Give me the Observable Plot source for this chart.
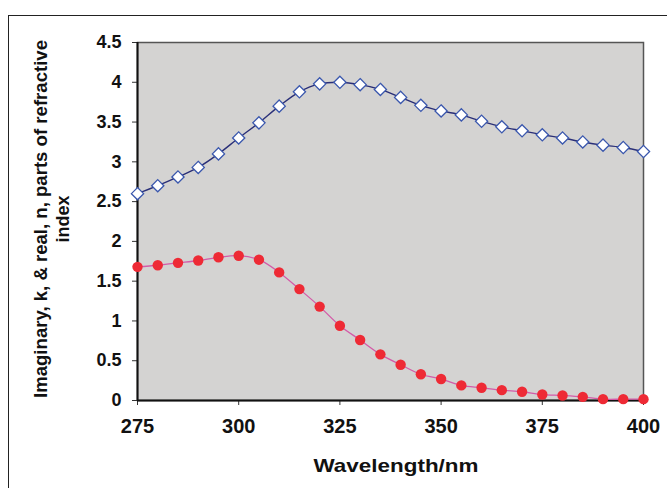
<!DOCTYPE html>
<html>
<head>
<meta charset="utf-8">
<script src="https://cdn.jsdelivr.net/npm/d3@7"></script>
<script src="https://cdn.jsdelivr.net/npm/@observablehq/plot@0.6"></script>
<style>
  html, body { margin: 0; padding: 0; background: #fff; }
  #wrap { position: relative; width: 667px; height: 488px; overflow: hidden; }
  #border { position: absolute; left: 8px; top: 15px; width: 700px; height: 520px; border: 1px solid #222; box-sizing: border-box; pointer-events: none; }
  #chart { position: absolute; left: 0; top: 0; }
  #chart g[aria-label="x-axis tick label"] { font-size: 20px; font-weight: bold; }
  #chart g[aria-label="y-axis tick label"] { font-size: 18px; font-weight: bold; }
</style>
</head>
<body>
<div id="wrap"><div id="chart"></div><div id="border"></div></div>
<script>
const wavelength = [275,280,285,290,295,300,305,310,315,320,325,330,335,340,345,350,355,360,365,370,375,380,385,390,395,400];
const nReal = [2.60,2.70,2.81,2.93,3.10,3.30,3.49,3.70,3.88,3.98,4.00,3.97,3.91,3.81,3.71,3.64,3.59,3.51,3.44,3.39,3.34,3.30,3.25,3.21,3.18,3.13];
const kImag = [1.68,1.70,1.73,1.76,1.80,1.82,1.77,1.61,1.40,1.18,0.94,0.76,0.58,0.45,0.33,0.27,0.19,0.16,0.13,0.11,0.075,0.063,0.046,0.017,0.017,0.017];
const xTicks = [275,300,325,350,375,400];
const yTicks = [0,0.5,1,1.5,2,2.5,3,3.5,4,4.5];
const xTitle = "Wavelength/nm";
const yTitleLines = ["Imaginary, k, & real, n, parts of refractive", "index"];

const nData = wavelength.map((w,i) => ({w, v: nReal[i]}));
const kData = wavelength.map((w,i) => ({w, v: kImag[i]}));

const FONT = "'Liberation Sans', Arial, sans-serif";

const chart = Plot.plot({
  width: 667,
  height: 488,
  marginLeft: 137,
  marginRight: 24,
  marginTop: 42,
  marginBottom: 88,
  style: {fontFamily: FONT, fontWeight: "bold", color: "#111", background: "transparent"},
  x: {domain: [275, 400], label: null},
  y: {domain: [0, 4.5], label: null},
  marks: [
    Plot.frame({fill: "#d4d3d2", stroke: "#555", strokeWidth: 1.5}),
    Plot.axisX({ticks: xTicks, tickSize: 5, tickPadding: 13, fontSize: 20, fontWeight: "bold", label: null, stroke: "#333"}),
    Plot.axisY({ticks: yTicks, tickSize: 5, tickPadding: 11, fontSize: 18, fontWeight: "bold", label: null, stroke: "#333", tickFormat: d => String(d)}),
    Plot.ruleX([275], {stroke: "#111", strokeWidth: 2}),
    Plot.ruleY([0], {stroke: "#111", strokeWidth: 2}),
    Plot.line(nData, {x: "w", y: "v", stroke: "#2a2f78", strokeWidth: 1.4, curve: "catmull-rom"}),
    Plot.line(kData, {x: "w", y: "v", stroke: "#d45aa8", strokeWidth: 1.3, curve: "catmull-rom"}),
    Plot.dot(nData, {x: "w", y: "v", symbol: "diamond2", r: 5.5, fill: "#fff", stroke: "#3a57ad", strokeWidth: 1.3}),
    Plot.dot(kData, {x: "w", y: "v", r: 5.2, fill: "#ee2a35", stroke: "none"})
  ]
});

document.getElementById("chart").appendChild(chart);

const svg = d3.select(chart);
svg.selectAll('g[aria-label="x-axis tick label"]').attr("font-size", 20).style("font-size", "20px");
svg.selectAll('g[aria-label="y-axis tick label"]').attr("font-size", 18).style("font-size", "18px");

svg.append("text")
  .attr("x", 396).attr("y", 472)
  .attr("text-anchor", "middle")
  .attr("font-family", FONT)
  .attr("font-weight", "bold")
  .attr("font-size", 19)
  .attr("textLength", 165)
  .attr("lengthAdjust", "spacingAndGlyphs")
  .attr("fill", "#111")
  .text(xTitle);

const yPos = [[41, 219, 358], [63, 219, null]];
yTitleLines.forEach((t, i) => {
  const el = svg.append("text")
    .attr("transform", `translate(${yPos[i][0]},${yPos[i][1]}) rotate(-90)`)
    .attr("text-anchor", "middle")
    .attr("dy", "0.35em")
    .attr("font-family", FONT)
    .attr("font-weight", "bold")
    .attr("font-size", 18)
    .attr("fill", "#111")
    .text(t);
  if (yPos[i][2]) el.attr("textLength", yPos[i][2]).attr("lengthAdjust", "spacingAndGlyphs");
});
</script>
</body>
</html>
